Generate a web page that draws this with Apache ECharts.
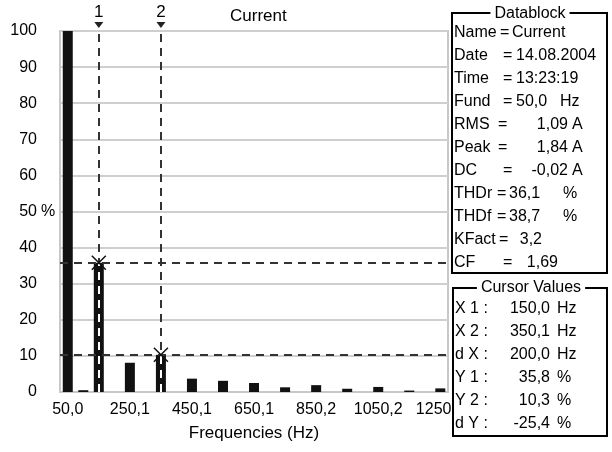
<!DOCTYPE html>
<html>
<head>
<meta charset="utf-8">
<script src="https://cdn.jsdelivr.net/npm/echarts@6/dist/echarts.min.js"></script>
<style>html,body{margin:0;padding:0;background:#fff}#c{width:612px;height:452px}</style>
</head>
<body>
<div id="c"></div>
<script>
// ---- data ----
const freqs = [50.0, 100.0, 150.0, 200.0, 250.1, 300.1, 350.1, 400.1, 450.1, 500.1, 550.1, 600.1, 650.1,
               700.1, 750.1, 800.1, 850.2, 900.2, 950.2, 1000.2, 1050.2, 1100.2, 1150.2, 1200.2, 1250.2];
const amplitudes = [100, 0.5, 35.8, 0, 8.1, 0, 10.3, 0, 3.7, 0, 3.1, 0, 2.5,
                    0, 1.3, 0, 1.9, 0, 0.9, 0, 1.4, 0, 0.4, 0, 1.0];
const xTickValues = [50.0, 250.1, 450.1, 650.1, 850.2, 1050.2, 1250.2];
const xTickLabels = ['50,0', '250,1', '450,1', '650,1', '850,2', '1050,2', '1250,2'];
const cursorX = [150.0, 350.1];
const cursorY = [35.8, 10.3];
const cursorNames = ['1', '2'];
const dbLabels = ['Name', 'Date', 'Time', 'Fund', 'RMS', 'Peak', 'DC', 'THDr', 'THDf', 'KFact', 'CF'];
const dbValues = ['Current', '14.08.2004', '13:23:19', '50,0', '1,09', '1,84', '-0,02', '36,1', '38,7', '3,2', '1,69'];
const dbUnits = ['', '', '', 'Hz', 'A', 'A', 'A', '%', '%', '', ''];
const cvLabels = ['X 1 :', 'X 2 :', 'd X :', 'Y 1 :', 'Y 2 :', 'd Y :'];
const cvValues = ['150,0', '350,1', '200,0', '35,8', '10,3', '-25,4'];
const cvUnits = ['Hz', 'Hz', 'Hz', '%', '%', '%'];

// ---- layout ----
const FONT = "'Liberation Sans', Arial, sans-serif";
const dbEqX = [500, 503, 503, 503, 498, 498, 503, 497, 497, 499, 503];
const dbValX = [512, 516, 516, 516, 568, 568, 568, 509, 509, 542, 558];
const dbValAlign = ['left', 'left', 'left', 'left', 'right', 'right', 'right', 'left', 'left', 'right', 'right'];
const dbUnitX = [0, 0, 0, 560, 572, 572, 572, 563, 563, 0, 0];
const chart = echarts.init(document.getElementById('c'), null, {renderer: 'canvas'});

const txt = (x, y, text, align) => ({type: 'text', z: 101, x: x, y: y,
  style: {text: text, font: '16px ' + FONT, fill: '#000', align: align || 'left', verticalAlign: 'middle'}});

const graphics = [];
// Datablock box
graphics.push({type: 'rect', z: 100, shape: {x: 452, y: 13, width: 155, height: 260},
  style: {fill: '#fff', stroke: '#000', lineWidth: 2}});
graphics.push({type: 'text', z: 101, x: 530, y: 14,
  style: {text: 'Datablock', font: '16px ' + FONT, fill: '#000', align: 'center', verticalAlign: 'middle',
    backgroundColor: '#fff', padding: [0, 4]}});
dbLabels.forEach((l, i) => {
  const y = 33 + i * 23;
  graphics.push(txt(454, y, l));
  graphics.push(txt(dbEqX[i], y, '='));
  graphics.push(txt(dbValX[i], y, dbValues[i], dbValAlign[i]));
  if (dbUnits[i]) graphics.push(txt(dbUnitX[i], y, dbUnits[i]));
});
// Cursor values box
graphics.push({type: 'rect', z: 100, shape: {x: 453, y: 288, width: 154, height: 148},
  style: {fill: '#fff', stroke: '#000', lineWidth: 2}});
graphics.push({type: 'text', z: 101, x: 531, y: 288,
  style: {text: 'Cursor Values', font: '16px ' + FONT, fill: '#000', align: 'center', verticalAlign: 'middle',
    backgroundColor: '#fff', padding: [0, 4]}});
cvLabels.forEach((l, i) => {
  const y = 309 + i * 23;
  graphics.push(txt(455, y, l));
  graphics.push(txt(550, y, cvValues[i], 'right'));
  graphics.push(txt(557, y, cvUnits[i]));
});

const dash = {color: '#333', width: 2, type: [8, 6]};
const markLineData = [];
cursorX.forEach(x => markLineData.push({xAxis: x, lineStyle: dash}));
cursorY.forEach(y => markLineData.push({yAxis: y, lineStyle: dash}));
cursorX.forEach((x, i) => markLineData.push([
  {coord: [x, 0], lineStyle: {color: '#fff', width: 2, type: [8, 6]}},
  {coord: [x, cursorY[i]]}
]));

const markPointData = [];
cursorX.forEach((x, i) => {
  markPointData.push({coord: [x, 100], symbol: 'triangle', symbolSize: [9, 6], symbolRotate: 180,
    symbolOffset: [0, -6], itemStyle: {color: '#222'},
    label: {show: true, formatter: cursorNames[i], position: 'top', distance: 1,
      fontSize: 17, fontFamily: FONT, color: '#000'}});
  markPointData.push({coord: [x, cursorY[i]], symbol: 'path://M0,0 L10,10 M10,0 L0,10',
    symbolSize: 14, itemStyle: {color: 'none', borderColor: '#111', borderWidth: 1.5}, label: {show: false}});
});

chart.setOption({
  animation: false,
  backgroundColor: '#fff',
  title: {text: 'Current', left: 225, top: 3,
    textStyle: {fontSize: 17, fontWeight: 'normal', color: '#000', fontFamily: FONT}},
  grid: {left: 60, right: 164, top: 31, bottom: 60, show: true, borderColor: '#c8c8c8', borderWidth: 2,
    backgroundColor: 'transparent'},
  xAxis: {
    type: 'value', min: 25, max: 1275,
    name: 'Frequencies (Hz)', nameLocation: 'middle', nameGap: 33,
    nameTextStyle: {fontSize: 17, color: '#000', fontFamily: FONT},
    axisLine: {show: true, lineStyle: {color: '#c8c8c8', width: 2}},
    axisTick: {show: false},
    splitLine: {show: false},
    axisLabel: {customValues: xTickValues, fontSize: 16, color: '#000', fontFamily: FONT, margin: 10,
      formatter: v => xTickLabels[xTickValues.indexOf(v)] || ''}
  },
  yAxis: {
    type: 'value', min: 0, max: 100, interval: 10,
    axisLine: {show: true, lineStyle: {color: '#c8c8c8', width: 2}},
    axisTick: {show: false},
    splitLine: {show: true, lineStyle: {color: '#cfcfcf', width: 2}},
    axisLabel: {fontSize: 16, color: '#000', fontFamily: FONT, margin: 5,
      formatter: v => v === 50 ? '50{p| %}' : v + '{p| }',
      rich: {p: {width: 18, fontSize: 16, fontFamily: FONT, color: '#000', align: 'left'}}}
  },
  graphic: graphics,
  series: [{
    type: 'bar',
    data: freqs.map((f, i) => [f, amplitudes[i]]),
    barWidth: 10,
    itemStyle: {color: '#111'},
    markLine: {silent: true, symbol: 'none', label: {show: false}, data: markLineData},
    markPoint: {silent: true, data: markPointData}
  }]
});
</script>
</body>
</html>
